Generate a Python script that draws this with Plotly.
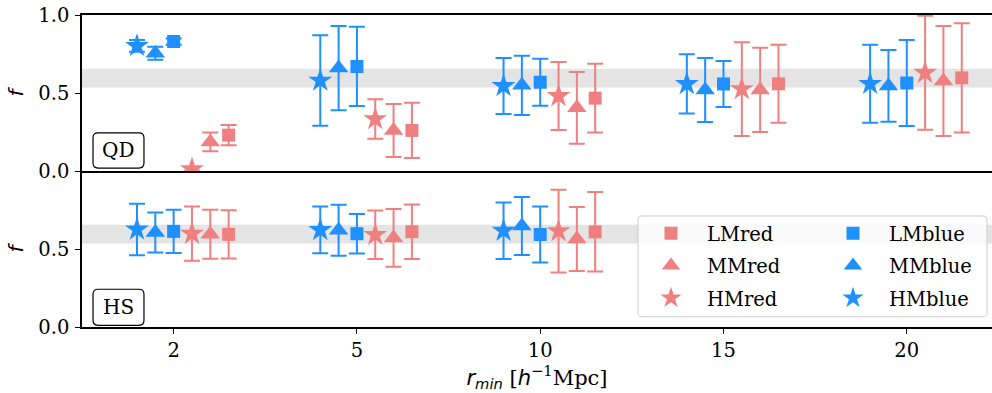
import plotly.graph_objects as go
from plotly.subplots import make_subplots

# ---------------- data ----------------
categories = ["2", "5", "10", "15", "20"]

# QD panel (top)
qd_LMred = [0.23, 0.26, 0.467, 0.559, 0.597]
qd_LMred_err = [0.065, 0.177, 0.22, 0.25, 0.35]
qd_MMred = [0.186, 0.26, 0.405, 0.52, 0.577]
qd_MMred_err = [0.06, 0.17, 0.23, 0.27, 0.353]
qd_HMred = [0.012, 0.333, 0.481, 0.525, 0.63]
qd_HMred_err = [0.01, 0.127, 0.218, 0.30, 0.365]
qd_LMblue = [0.83, 0.67, 0.569, 0.558, 0.564]
qd_LMblue_err = [0.02, 0.254, 0.15, 0.147, 0.276]
qd_MMblue = [0.755, 0.66, 0.549, 0.519, 0.545]
qd_MMblue_err = [0.042, 0.27, 0.19, 0.205, 0.23]
qd_HMblue = [0.802, 0.58, 0.545, 0.558, 0.559]
qd_HMblue_err = [0.038, 0.29, 0.18, 0.19, 0.25]

# HS panel (bottom)
hs_LMred = [0.594, 0.611, 0.61, None, None]
hs_LMred_err = [0.155, 0.175, 0.255, None, None]
hs_MMred = [0.595, 0.571, 0.564, None, None]
hs_MMred_err = [0.157, 0.185, 0.205, None, None]
hs_HMred = [0.598, 0.591, 0.615, None, None]
hs_HMred_err = [0.174, 0.155, 0.265, None, None]
hs_LMblue = [0.613, 0.598, 0.593, None, None]
hs_LMblue_err = [0.138, 0.127, 0.18, None, None]
hs_MMblue = [0.606, 0.62, 0.647, None, None]
hs_MMblue_err = [0.128, 0.163, 0.186, None, None]
hs_HMblue = [0.625, 0.622, 0.617, None, None]
hs_HMblue_err = [0.165, 0.15, 0.181, None, None]

band_low, band_high = 0.535, 0.655
y_ticks_top = [0.0, 0.5, 1.0]
y_ticks_bottom = [0.0, 0.5]
panel_labels = ["QD", "HS"]

# ---------------- styles ----------------
RED = "#F08080"
BLUE = "#1E90FF"
series_style = {
    "LMred": dict(color=RED, symbol="square", size=13, shift=0.3, legend="legend"),
    "MMred": dict(color=RED, symbol="triangle-up", size=17, shift=0.2, legend="legend"),
    "HMred": dict(color=RED, symbol="star", size=18, shift=0.1, legend="legend"),
    "LMblue": dict(color=BLUE, symbol="square", size=13, shift=0.0, legend="legend2"),
    "MMblue": dict(color=BLUE, symbol="triangle-up", size=17, shift=-0.1, legend="legend2"),
    "HMblue": dict(color=BLUE, symbol="star", size=18, shift=-0.2, legend="legend2"),
}
panel_data = [
    {"LMred": (qd_LMred, qd_LMred_err), "MMred": (qd_MMred, qd_MMred_err),
     "HMred": (qd_HMred, qd_HMred_err), "LMblue": (qd_LMblue, qd_LMblue_err),
     "MMblue": (qd_MMblue, qd_MMblue_err), "HMblue": (qd_HMblue, qd_HMblue_err)},
    {"LMred": (hs_LMred, hs_LMred_err), "MMred": (hs_MMred, hs_MMred_err),
     "HMred": (hs_HMred, hs_HMred_err), "LMblue": (hs_LMblue, hs_LMblue_err),
     "MMblue": (hs_MMblue, hs_MMblue_err), "HMblue": (hs_HMblue, hs_HMblue_err)},
]

SERIF = "DejaVu Serif"
SANS = "DejaVu Sans"
FS = 19.5

fig = make_subplots(rows=2, cols=1, shared_xaxes=True, vertical_spacing=0)

xidx = list(range(len(categories)))
for row, pdata in enumerate(panel_data, start=1):
    for name, (vals, errs) in pdata.items():
        st = series_style[name]
        fig.add_trace(go.Scatter(
            x=[i + st["shift"] for i in xidx], y=vals,
            mode="markers", name=name,
            legendgroup=name, showlegend=(row == 2), legend=st["legend"],
            marker=dict(color=st["color"], symbol=st["symbol"], size=st["size"],
                        line=dict(width=0)),
            error_y=dict(type="data", array=errs, symmetric=True,
                         color=st["color"], thickness=2, width=8),
            cliponaxis=True,
        ), row=row, col=1)

# grey band
for yref in ["y", "y2"]:
    fig.add_shape(type="rect", xref=yref.replace("y", "x") + " domain", yref=yref,
                  x0=0, x1=1, y0=band_low, y1=band_high,
                  fillcolor="#E4E4E4", line=dict(width=0), layer="below")


def rounded_path(x0, y0, x1, y1, rx, ry):
    return (f"M {x0+rx},{y0} L {x1-rx},{y0} Q {x1},{y0} {x1},{y0+ry} "
            f"L {x1},{y1-ry} Q {x1},{y1} {x1-rx},{y1} L {x0+rx},{y1} "
            f"Q {x0},{y1} {x0},{y1-ry} L {x0},{y0+ry} Q {x0},{y0} {x0+rx},{y0} Z")

# panel label boxes
for i, (lab, xr, yr) in enumerate(zip(panel_labels, ["x domain", "x2 domain"], ["y domain", "y2 domain"])):
    y0, y1 = (0.019, 0.244) if i == 0 else (0.011, 0.242)
    fig.add_shape(type="path", xref=xr, yref=yr,
                  path=rounded_path(0.0121, y0, 0.0681, y1, 0.0055, 0.032),
                  fillcolor="white", line=dict(color="black", width=1.2), layer="above")
    fig.add_annotation(xref=xr, yref=yr, x=(0.0121 + 0.0681) / 2, y=(y0 + y1) / 2,
                       xanchor="center", yanchor="middle",
                       text=lab, showarrow=False,
                       font=dict(family=SERIF, size=20, color="black"))

# legend frame
fig.add_shape(type="path", xref="paper", yref="paper",
              path=rounded_path(0.611, 0.033, 0.9945, 0.3558, 0.0044, 0.0128),
              fillcolor="rgba(255,255,255,0.8)", line=dict(color="#CCCCCC", width=1),
              layer="above")

leg_common = dict(bgcolor="rgba(0,0,0,0)", borderwidth=0, tracegroupgap=4,
                  font=dict(family=SERIF, size=FS, color="black"),
                  yanchor="top", xanchor="left", itemsizing="trace", itemwidth=62,
                  traceorder="grouped")
axis_font = dict(family=SERIF, size=FS, color="black")

fig.update_layout(
    width=992, height=393,
    margin=dict(l=82, r=0, t=15, b=66),
    plot_bgcolor="white", paper_bgcolor="white",
    legend=dict(x=0.6077, y=0.362, **leg_common),
    legend2=dict(x=0.8077, y=0.362, **leg_common),
)

common_ax = dict(showline=True, linecolor="black", linewidth=1.5,
                 showgrid=False, zeroline=False, tickfont=axis_font,
                 ticks="outside", ticklen=5, tickwidth=1.3, tickcolor="black")

fig.update_xaxes(range=[-0.5, 4.465], tickvals=xidx, ticktext=categories, **common_ax)
fig.update_xaxes(showticklabels=False, ticks="", mirror=True, row=1, col=1)
fig.update_xaxes(
    mirror=False,
    title=dict(text=(f'<span style="font-family:{SANS}"><i>r</i><sub><i>min</i></sub></span>'
                     f' [<span style="font-family:{SANS}"><i>h</i></span><sup>−1</sup>Mpc]'),
               font=dict(family=SERIF, size=21, color="black"), standoff=5),
    row=2, col=1)

ytitle = dict(text="<i>f</i>", font=dict(family=SANS, size=20, color="black"), standoff=9)
fig.update_yaxes(range=[0, 1], tickvals=y_ticks_top, tickformat=".1f", title=ytitle,
                 mirror=False, ticklabelstandoff=2, row=1, col=1, **common_ax)
fig.update_yaxes(range=[0, 1], tickvals=y_ticks_bottom, tickformat=".1f", title=ytitle,
                 mirror=False, ticklabelstandoff=2, row=2, col=1, **common_ax)

fig.write_html("out.html")
